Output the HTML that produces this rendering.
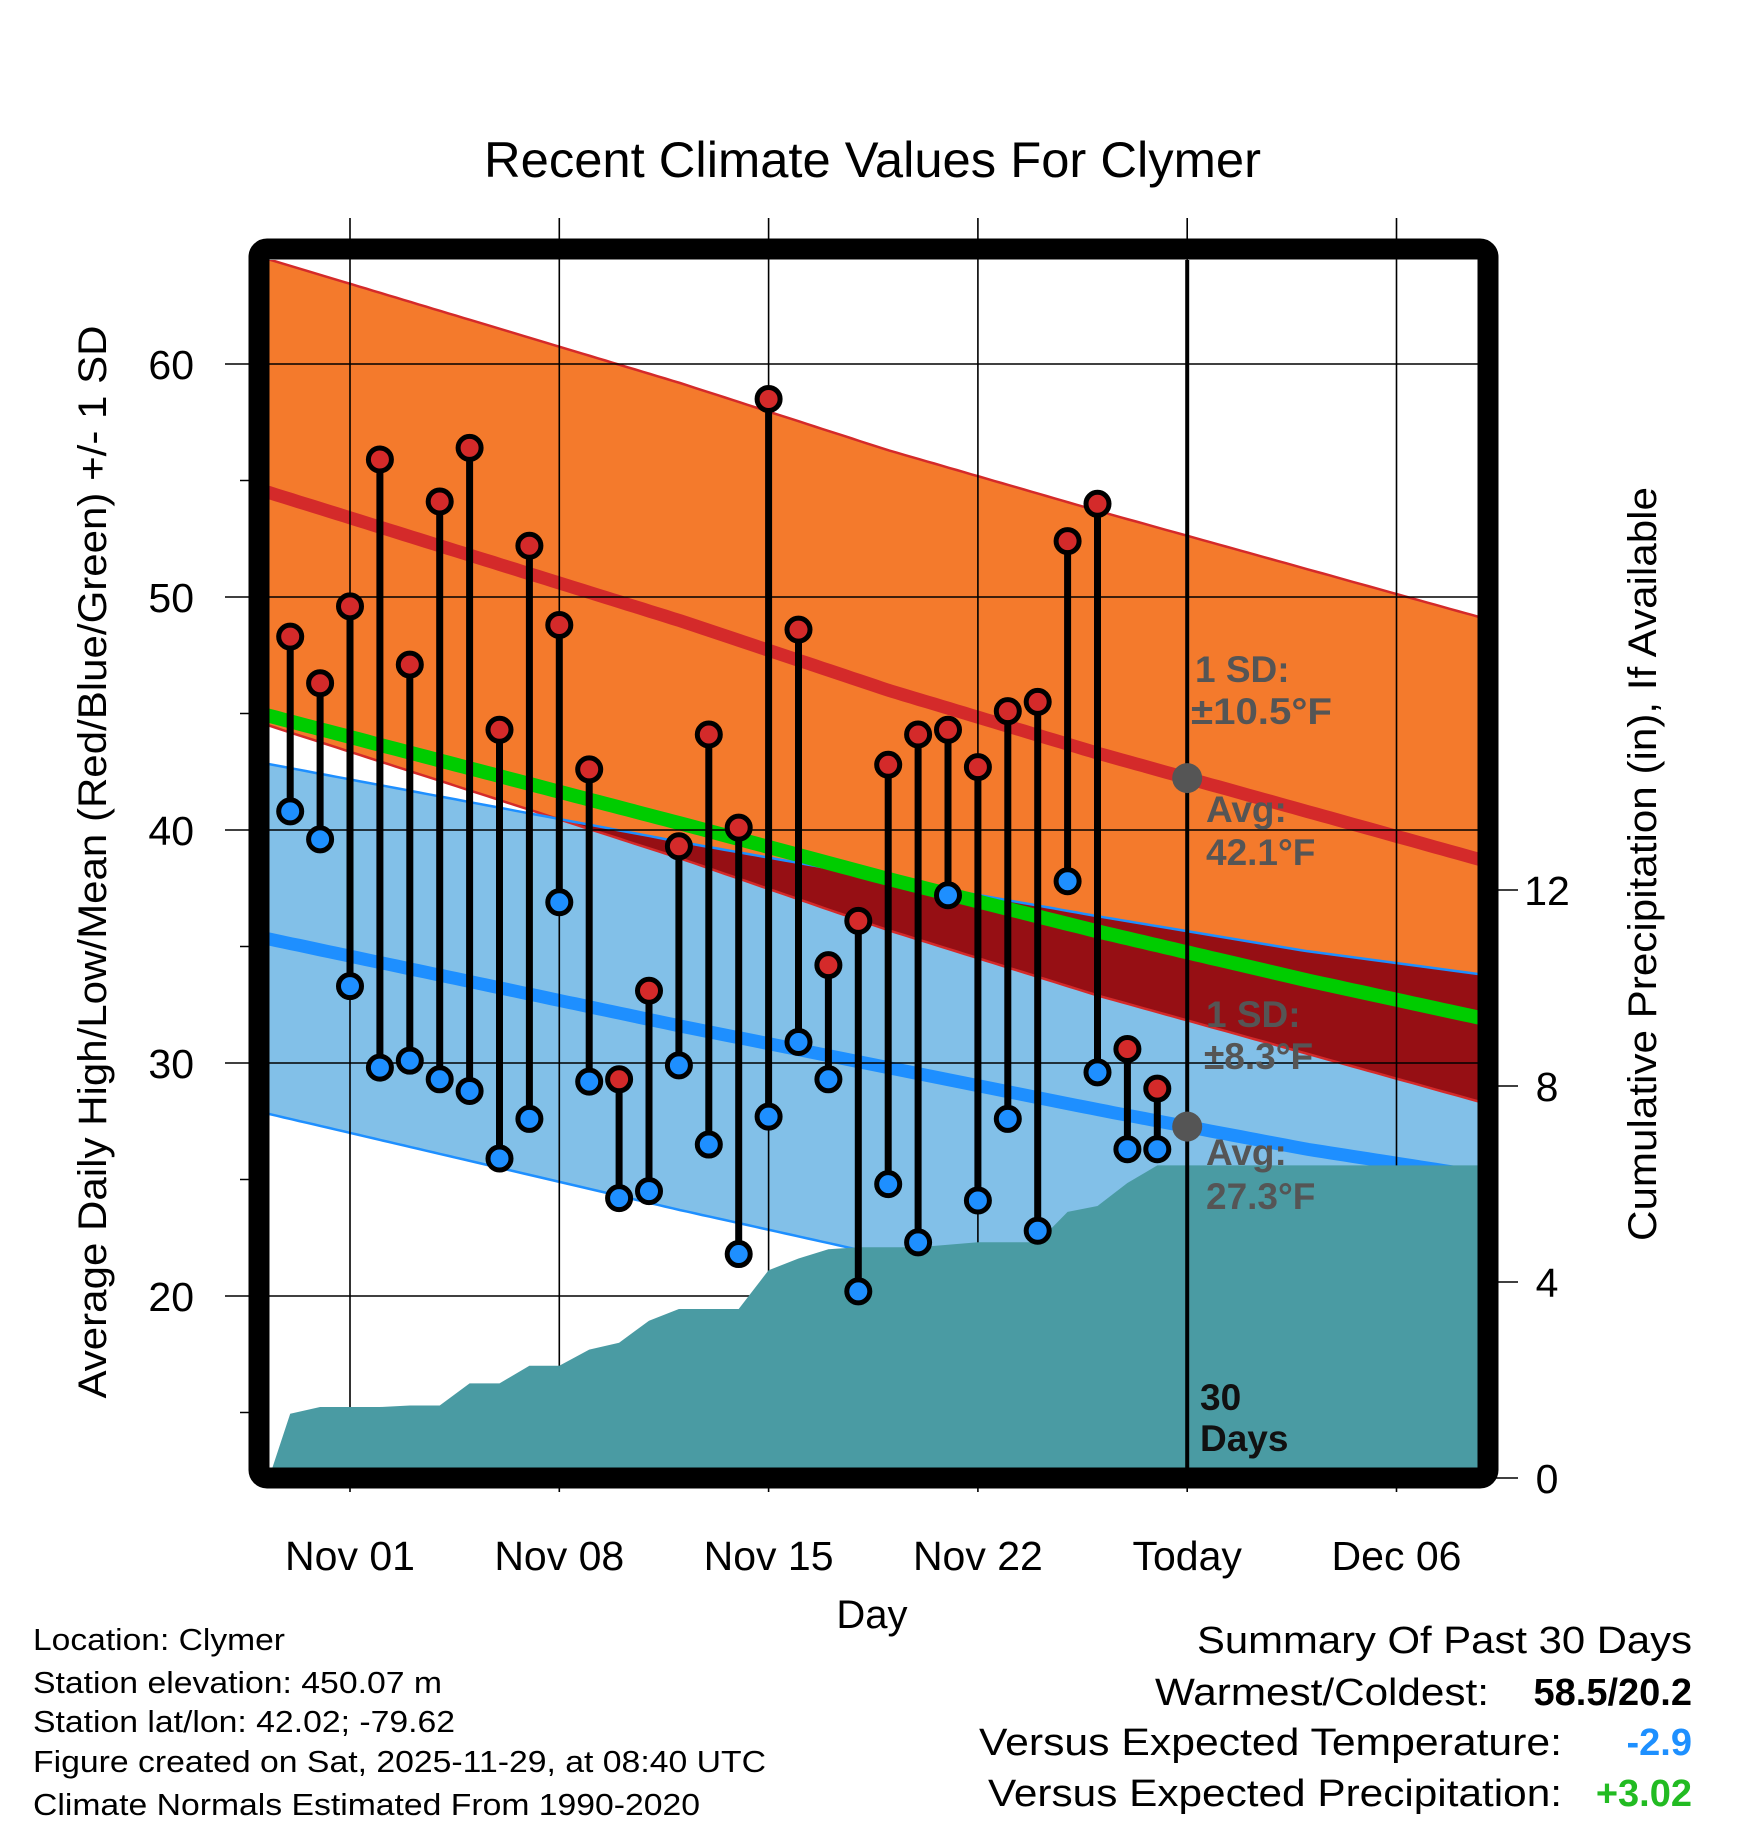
<!DOCTYPE html>
<html><head><meta charset="utf-8"><style>
html,body{margin:0;padding:0;background:#fff;}
svg{display:block;font-family:"Liberation Sans",sans-serif;}
</style></head><body>
<svg id="chart" width="1748" height="1828" viewBox="0 0 1748 1828" xmlns="http://www.w3.org/2000/svg">
<defs><clipPath id="plotclip"><rect x="269" y="260" width="1209" height="1208"/></clipPath></defs>
<g id="bands" clip-path="url(#plotclip)"></g>
<g id="grid"></g>
<g id="precip" clip-path="url(#plotclip)"></g>
<g id="marks"></g>
<g id="annot" font-weight="bold" font-size="37" fill="#555">
<text x="1195" y="682">1 SD:</text>
<text x="1191" y="724" textLength="141" lengthAdjust="spacingAndGlyphs">±10.5°F</text>
<text x="1206" y="822">Avg:</text>
<text x="1206" y="865">42.1°F</text>
<text x="1206" y="1027">1 SD:</text>
<text x="1204" y="1069">±8.3°F</text>
<text x="1206" y="1165">Avg:</text>
<text x="1206" y="1209">27.3°F</text>
<text x="1200" y="1410" fill="#111">30</text>
<text x="1200" y="1451" fill="#111">Days</text>
</g>
<rect x="259" y="249" width="1229" height="1229" rx="8" fill="none" stroke="#000" stroke-width="21"/>
<g id="axes"></g>
<text x="484" y="177" font-size="50" textLength="777" lengthAdjust="spacingAndGlyphs">Recent Climate Values For Clymer</text>
<text x="872" y="1628" font-size="40" text-anchor="middle">Day</text>
<text transform="translate(106,862) rotate(-90)" font-size="40" text-anchor="middle" textLength="1073" lengthAdjust="spacingAndGlyphs">Average Daily High/Low/Mean (Red/Blue/Green) +/- 1 SD</text>
<text transform="translate(1656,864) rotate(-90)" font-size="40" text-anchor="middle" textLength="754" lengthAdjust="spacingAndGlyphs">Cumulative Precipitation (in), If Available</text>
<g font-size="31">
<text x="33" y="1650" textLength="252" lengthAdjust="spacingAndGlyphs">Location: Clymer</text>
<text x="33" y="1693" textLength="409" lengthAdjust="spacingAndGlyphs">Station elevation: 450.07 m</text>
<text x="33" y="1732" textLength="422" lengthAdjust="spacingAndGlyphs">Station lat/lon: 42.02; -79.62</text>
<text x="33" y="1772" textLength="733" lengthAdjust="spacingAndGlyphs">Figure created on Sat, 2025-11-29, at 08:40 UTC</text>
<text x="33" y="1815" textLength="667" lengthAdjust="spacingAndGlyphs">Climate Normals Estimated From 1990-2020</text>
</g>
<g font-size="38">
<text x="1197" y="1653" textLength="495" lengthAdjust="spacingAndGlyphs">Summary Of Past 30 Days</text>
<text x="1489" y="1705" text-anchor="end" textLength="334" lengthAdjust="spacingAndGlyphs">Warmest/Coldest:</text>
<text x="1692" y="1705" text-anchor="end" font-weight="bold">58.5/20.2</text>
<text x="979" y="1755" textLength="583" lengthAdjust="spacingAndGlyphs">Versus Expected Temperature:</text>
<text x="1692" y="1755" text-anchor="end" font-weight="bold" fill="#1e90ff">-2.9</text>
<text x="988" y="1806" textLength="574" lengthAdjust="spacingAndGlyphs">Versus Expected Precipitation:</text>
<text x="1692" y="1806" text-anchor="end" font-weight="bold" fill="#22bb22">+3.02</text>
</g>
</svg>
<script>
// ---- data ----
const days = [-2,-1,0,1,2,3,4,5,6,7,8,9,10,11,12,13,14,15,16,17,18,19,20,21,22,23,24,25,26,27]; // relative to Nov 01
const highs = [48.3,46.3,49.6,55.9,47.1,54.1,56.4,44.3,52.2,48.8,42.6,29.3,33.1,39.3,44.1,40.1,58.5,48.6,34.2,36.1,42.8,44.1,44.3,42.7,45.1,45.5,52.4,54.0,30.6,28.9];
const lows = [40.8,39.6,33.3,29.8,30.1,29.3,28.8,25.9,27.6,36.9,29.2,24.2,24.5,29.9,26.5,21.8,27.7,30.9,29.3,20.2,24.8,22.3,37.2,24.1,27.6,22.8,37.8,29.6,26.3,26.3];
const precip = [1.31,1.45,1.45,1.45,1.48,1.48,1.93,1.93,2.29,2.29,2.62,2.76,3.21,3.45,3.45,3.45,4.24,4.48,4.67,4.71,4.71,4.71,4.76,4.81,4.81,4.81,5.43,5.55,6.02,6.38];
const normDays = [-3,4,11,18,25,32,39];
const normHigh = [54.6,51.8,49.0,46.0,43.3,40.8,38.3];
const normLow = [35.4,33.5,31.6,29.8,28.0,26.3,24.9];
const sdHighArr = [10.0,10.1,10.2,10.3,10.4,10.4,10.4];
const sdLowArr = [7.5,7.7,7.9,8.1,8.3,8.5,8.7];
const xTickDays = [0,7,14,21,28,35];
const xTickLabels = ["Nov 01","Nov 08","Nov 15","Nov 22","Today","Dec 06"];
const yTicks = [20,30,40,50,60];
const yMinor = [15,25,35,45,55];
const pTicks = [0,4,8,12];
const todayDay = 28;

// ---- scales ----
const xd = d => 350 + d*29.9;
const yT = v => 364 + (60-v)*23.3;
const yP = p => 1478 - p*49;
const XL=269, XR=1478, YT=260, YB=1468;
const dMin=(XL-350)/29.9, dMax=(XR-350)/29.9;
const NS="http://www.w3.org/2000/svg";
function mk(tag, attrs, parent){const e=document.createElementNS(NS,tag);for(const k in attrs)e.setAttribute(k,attrs[k]);parent.appendChild(e);return e;}
function interp(xs,ys,x){for(let i=0;i<xs.length-1;i++){if(x<=xs[i+1]||i==xs.length-2){const t=(x-xs[i])/(xs[i+1]-xs[i]);return ys[i]+t*(ys[i+1]-ys[i]);}}}
const samples=[];for(let d=dMin-0.5;d<=dMax+0.5;d+=0.25)samples.push(d);
const nh=d=>interp(normDays,normHigh,d), nl=d=>interp(normDays,normLow,d);
const sh=d=>interp(normDays,sdHighArr,d), sl=d=>interp(normDays,sdLowArr,d);
function line(f){return samples.map(d=>xd(d).toFixed(1)+","+yT(f(d)).toFixed(1)).join(" ");}
function band(fTop,fBot){return samples.map(d=>xd(d).toFixed(1)+","+yT(fTop(d)).toFixed(1)).concat(samples.slice().reverse().map(d=>xd(d).toFixed(1)+","+yT(fBot(d)).toFixed(1))).join(" ");}

const bands=document.getElementById('bands');
let e;
e=mk('polygon',{points:band(d=>nh(d)+sh(d),d=>nh(d)-sh(d)),fill:'#f47a2c'},bands);


e=mk('polygon',{points:band(d=>nl(d)+sl(d),d=>nl(d)-sl(d)),fill:'#82c0e8'},bands);


e=mk('polygon',{points:band(d=>Math.max(nl(d)+sl(d),nh(d)-sh(d)),d=>nh(d)-sh(d)),fill:'#960f14'},bands);


[[d=>nh(d)+sh(d),'#d42a2a'],[d=>nh(d)-sh(d),'#d42a2a'],[d=>nl(d)+sl(d),'#1e8fff'],[d=>nl(d)-sl(d),'#1e8fff']].forEach(([f,c])=>{
 e=mk('polyline',{points:line(f),fill:'none',stroke:c,'stroke-width':2.5},bands);
 
 
});
e=mk('polyline',{points:line(nh),fill:'none',stroke:'#d42a2a','stroke-width':13},bands);


e=mk('polyline',{points:line(nl),fill:'none',stroke:'#1e8fff','stroke-width':13},bands);


e=mk('polyline',{points:line(d=>(nh(d)+nl(d))/2),fill:'none',stroke:'#00cc00','stroke-width':14},bands);



// grid
const grid=document.getElementById('grid');
xTickDays.forEach(d=>{e=mk('line',{x1:xd(d),x2:xd(d),y1:218,y2:1492,stroke:'#000','stroke-width':1.6},grid);
 
 });
yTicks.forEach(v=>{e=mk('line',{x1:225,x2:XR,y1:yT(v),y2:yT(v),stroke:'#000','stroke-width':1.6},grid);
 
 });
yMinor.forEach(v=>{e=mk('line',{x1:240,x2:252,y1:yT(v),y2:yT(v),stroke:'#000','stroke-width':1.5},grid);
 
 });

// precip
const pg=document.getElementById('precip');
let pts=[[XL-5,YB+10],[XL-5,yP(0)+12],[xd(dMin),yP(0)]];
days.forEach((d,i)=>pts.push([xd(d),yP(precip[i])]));
pts.push([XR+5,yP(precip[precip.length-1])],[XR+5,YB+10]);
e=mk('polygon',{points:pts.map(p=>p[0].toFixed(1)+","+p[1].toFixed(1)).join(" "),fill:'#4a9ba3'},pg);



// marks
const mg=document.getElementById('marks');
e=mk('line',{x1:xd(todayDay),x2:xd(todayDay),y1:YT,y2:YB,stroke:'#000','stroke-width':4},mg);


days.forEach((d,i)=>{
 e=mk('line',{x1:xd(d),x2:xd(d),y1:yT(highs[i]),y2:yT(lows[i]),stroke:'#000','stroke-width':7},mg);
 
 
});
days.forEach((d,i)=>{
 e=mk('circle',{cx:xd(d),cy:yT(highs[i]),r:11.5,fill:'#d42a2a',stroke:'#000','stroke-width':5},mg);
 
 
 e=mk('circle',{cx:xd(d),cy:yT(lows[i]),r:11.5,fill:'#1e8fff',stroke:'#000','stroke-width':5},mg);
 
 
});
e=mk('circle',{cx:xd(todayDay),cy:yT(nh(todayDay)),r:15,fill:'#555'},mg);


e=mk('circle',{cx:xd(todayDay),cy:yT(nl(todayDay)),r:15,fill:'#555'},mg);



// axes labels
const ax=document.getElementById('axes');
xTickDays.forEach((d,i)=>{e=mk('text',{x:xd(d),y:1570,'font-size':41,'text-anchor':'middle'},ax);e.textContent=xTickLabels[i];
 
 });
yTicks.forEach(v=>{e=mk('text',{x:194,y:yT(v)+15,'font-size':41,'text-anchor':'end'},ax);e.textContent=String(v);
 
 });
pTicks.forEach(p=>{
 e=mk('line',{x1:1490,x2:1518,y1:yP(p),y2:yP(p),stroke:'#000','stroke-width':1.6},ax);
 
 
 e=mk('text',{x:1547,y:yP(p)+15,'font-size':41,'text-anchor':'middle'},ax);e.textContent=String(p);
 
 
});
</script>
</body></html>
